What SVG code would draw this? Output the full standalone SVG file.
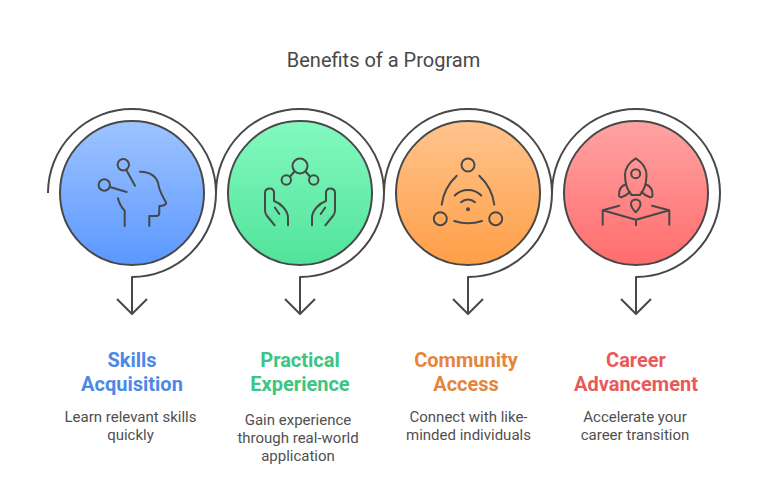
<svg xmlns="http://www.w3.org/2000/svg" width="767" height="484" viewBox="0 0 767 484">
<style>
.c{stroke:#484848;stroke-width:2}
.l{fill:none;stroke:#484848;stroke-width:2;stroke-linecap:round;stroke-linejoin:round}
.i{fill:none;stroke:#484848;stroke-width:2;stroke-linejoin:round}
text{font-family:Roboto,"Liberation Sans",sans-serif;text-anchor:middle}
.t{font-size:20px;fill:#484848}
.h{font-size:20px;font-weight:700}
.b{font-size:15px;fill:#505050}
</style>
<defs>
<linearGradient id="gb" x1="0" y1="0" x2="0" y2="1"><stop offset="0" stop-color="#9ec4ff"/><stop offset="1" stop-color="#5b98ff"/></linearGradient>
<linearGradient id="gg" x1="0" y1="0" x2="0" y2="1"><stop offset="0" stop-color="#84f9bf"/><stop offset="1" stop-color="#50e39a"/></linearGradient>
<linearGradient id="go" x1="0" y1="0" x2="0" y2="1"><stop offset="0" stop-color="#ffc48e"/><stop offset="1" stop-color="#ff9f47"/></linearGradient>
<linearGradient id="gr" x1="0" y1="0" x2="0" y2="1"><stop offset="0" stop-color="#ffa3a3"/><stop offset="1" stop-color="#ff6d6d"/></linearGradient>
</defs>
<text class="t" x="383.5" y="66.500">Benefits of a Program</text>
<g id="connectors">
<path class="i" d="M48 193A84 84 0 1 1 132 277V314M117 299L132 314L147 299"/>
<path class="i" d="M216 193A84 84 0 1 1 300 277V314M285 299L300 314L315 299"/>
<path class="i" d="M384 193A84 84 0 1 1 468 277V314M453 299L468 314L483 299"/>
<path class="i" d="M552 193A84 84 0 1 1 636 277V314M621 299L636 314L651 299"/>
</g>
<g id="node-skills">
<circle class="c" cx="132" cy="193" r="72" fill="url(#gb)"/>
<circle class="l" cx="123.300" cy="164.700" r="5.700"/>
<circle class="l" cx="104.300" cy="185" r="5.700"/>
<path class="l" d="M126.700 170.700L135 185.700M110.700 187.300L126.700 192M140 171.700C150 171.500 157 177 158.300 184C158.800 188 160 191 162 195L166 202.500C166.500 205 163 206 159.300 206V213C159.300 215 158 216 156 216H149.300V226M118 198.300C119 203 121 207 124.700 210.700V226"/>
<text class="h" x="132" y="367" fill="#4e88e7">Skills</text>
<text class="h" x="132" y="391" fill="#4e88e7">Acquisition</text>
<text class="b" x="130.500" y="422">Learn relevant skills</text>
<text class="b" x="130.500" y="440">quickly</text>
</g>
<g id="node-practical">
<circle class="c" cx="300" cy="193" r="72" fill="url(#gg)"/>
<circle class="l" cx="300" cy="166" r="7.500"/>
<circle class="l" cx="286.300" cy="180" r="4.700"/>
<circle class="l" cx="313.700" cy="180" r="4.700"/>
<path class="l" d="M290.500 176L294.500 171.500M309.500 176L305.500 171.500"/>
<path class="l" d="M274.700 225.300L266.700 215.500C265.500 214 265 212 265 210V193C265 190 267 188.500 269.700 188.500C272.500 188.500 274 190.500 274 193V201C280 203 288 210 288 218V225.300M279.300 214L274.800 207.500"/>
<path class="l" d="M325.300 225.300L333.300 215.500C334.500 214 335 212 335 210V193C335 190 333 188.500 330.300 188.500C327.500 188.500 326 190.500 326 193V201C320 203 312 210 312 218V225.300M320.700 214L325.200 207.500"/>
<text class="h" x="300" y="367" fill="#3cc583">Practical</text>
<text class="h" x="300" y="391" fill="#3cc583">Experience</text>
<text class="b" x="298" y="425">Gain experience</text>
<text class="b" x="298" y="443">through real-world</text>
<text class="b" x="298" y="461">application</text>
</g>
<g id="node-community">
<circle class="c" cx="468" cy="193" r="72" fill="url(#go)"/>
<circle class="l" cx="468" cy="165" r="6.500"/>
<circle class="l" cx="440.300" cy="218.700" r="6.500"/>
<circle class="l" cx="495.700" cy="218.700" r="6.500"/>
<path class="l" d="M456.700 175.700C448 184 443 194 441.700 204.700M479.300 175.700C488 184 493 194 494.300 204.700M454.300 221C463 224 473 224 482 221M454.700 195.500C462 188 474 188 481.300 195.500M461 202.300C465 198.500 471 198.500 475 202.300"/>
<circle cx="468" cy="209.300" r="2" fill="#484848"/>
<text class="h" x="466" y="367" fill="#e5853a">Community</text>
<text class="h" x="466" y="391" fill="#e5853a">Access</text>
<text class="b" x="468.500" y="422">Connect with like-</text>
<text class="b" x="468.500" y="440">minded individuals</text>
</g>
<g id="node-career">
<circle class="c" cx="636" cy="193" r="72" fill="url(#gr)"/>
<path class="l" d="M635.700 158.300C629 162.500 625 168 625 175C625 184 628 191 631.500 195H640C643.500 191 646.500 184 646.500 175C646.500 168 642.500 162.500 635.700 158.300Z"/>
<circle class="l" cx="635.700" cy="173.700" r="4.500"/>
<path class="l" d="M625.500 184.500C621 186 619 190 619 195C619 197 620.500 197.500 622 197C625 196 628 194 630 192M646 184.500C650.500 186 652.500 190 652.500 195C652.500 197 651 197.500 649.500 197C646.500 196 643.500 194 641.500 192"/>
<path class="l" d="M635.700 212.300C632.500 209 631 206 631 204C631 201.500 633 199.500 635.700 199.500C638.500 199.500 640.500 201.500 640.500 204C640.500 206 639 209 635.700 212.300Z"/>
<path class="l" d="M619.300 205.700L602.700 210.300L636 219.700L669.300 210.300L652 205.700M602.700 210.300V224.700M669.300 210.300V224.700M636 219.700V225.300"/>
<text class="h" x="636" y="367" fill="#e85a5a">Career</text>
<text class="h" x="636" y="391" fill="#e85a5a">Advancement</text>
<text class="b" x="635" y="422">Accelerate your</text>
<text class="b" x="635" y="440">career transition</text>
</g>
</svg>
